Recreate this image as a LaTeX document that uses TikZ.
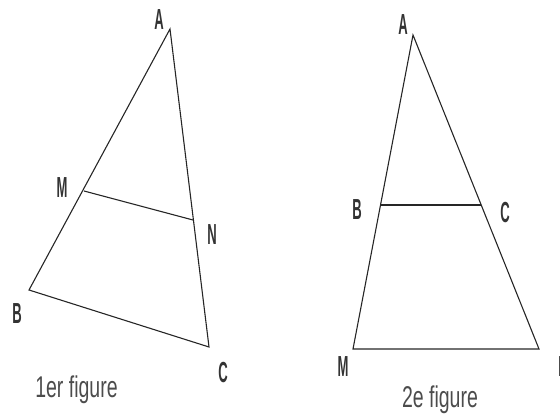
\documentclass[tikz,border=0pt]{standalone}
\usepackage{fontspec}
\setmainfont{Liberation Sans}
\begin{document}
\begin{tikzpicture}[x=1pt,y=1pt,
  seg/.style={line width=1.1pt, black!85},
  lbl/.style={inner sep=0pt, text=black!80, font=\fontsize{29}{29}\selectfont\bfseries},
  captxt/.style={inner sep=0pt, anchor=base, text=black!70, font=\fontsize{30}{30}\selectfont}]
\useasboundingbox (0,0) rectangle (560,415);
% figure 1
\coordinate (A1) at (170,386);
\coordinate (M1) at (84,224);
\coordinate (N1) at (193,195);
\coordinate (B1) at (29,125);
\coordinate (C1) at (209,68);
\draw[seg] (A1) -- (B1) -- (C1) -- cycle;
\draw[seg] (M1) -- (N1);
\node[lbl] (lA1) at (159,395) {\scalebox{0.45}[1]{A}};
\node[lbl] (lM1) at (62,227) {\scalebox{0.45}[1]{M}};
\node[lbl] (lN1) at (212,180) {\scalebox{0.45}[1]{N}};
\node[lbl] (lB1) at (17,101) {\scalebox{0.45}[1]{B}};
\node[lbl] (lC1) at (223,42) {\scalebox{0.45}[1]{C}};
\node[captxt] (cap1) at (76.5,17) {\scalebox{0.65}[1]{1er figure}};
% figure 2
\coordinate (A2) at (413,380);
\coordinate (B2) at (380,210);
\coordinate (C2) at (481,210);
\coordinate (M2) at (353,66);
\coordinate (N2) at (539,66);
\draw[seg] (A2) -- (M2) -- (N2) -- cycle;
\draw[seg] (B2) -- (C2);
\node[lbl] (lA2) at (403,390) {\scalebox{0.45}[1]{A}};
\node[lbl] (lB2) at (357,205) {\scalebox{0.45}[1]{B}};
\node[lbl] (lC2) at (505,202) {\scalebox{0.45}[1]{C}};
\node[lbl] (lM2) at (343,48) {\scalebox{0.45}[1]{M}};
\node[lbl] (lN2) at (563,48) {\scalebox{0.45}[1]{N}};
\node[captxt] (cap2) at (440,7) {\scalebox{0.65}[1]{2e figure}};
\end{tikzpicture}
\end{document}
